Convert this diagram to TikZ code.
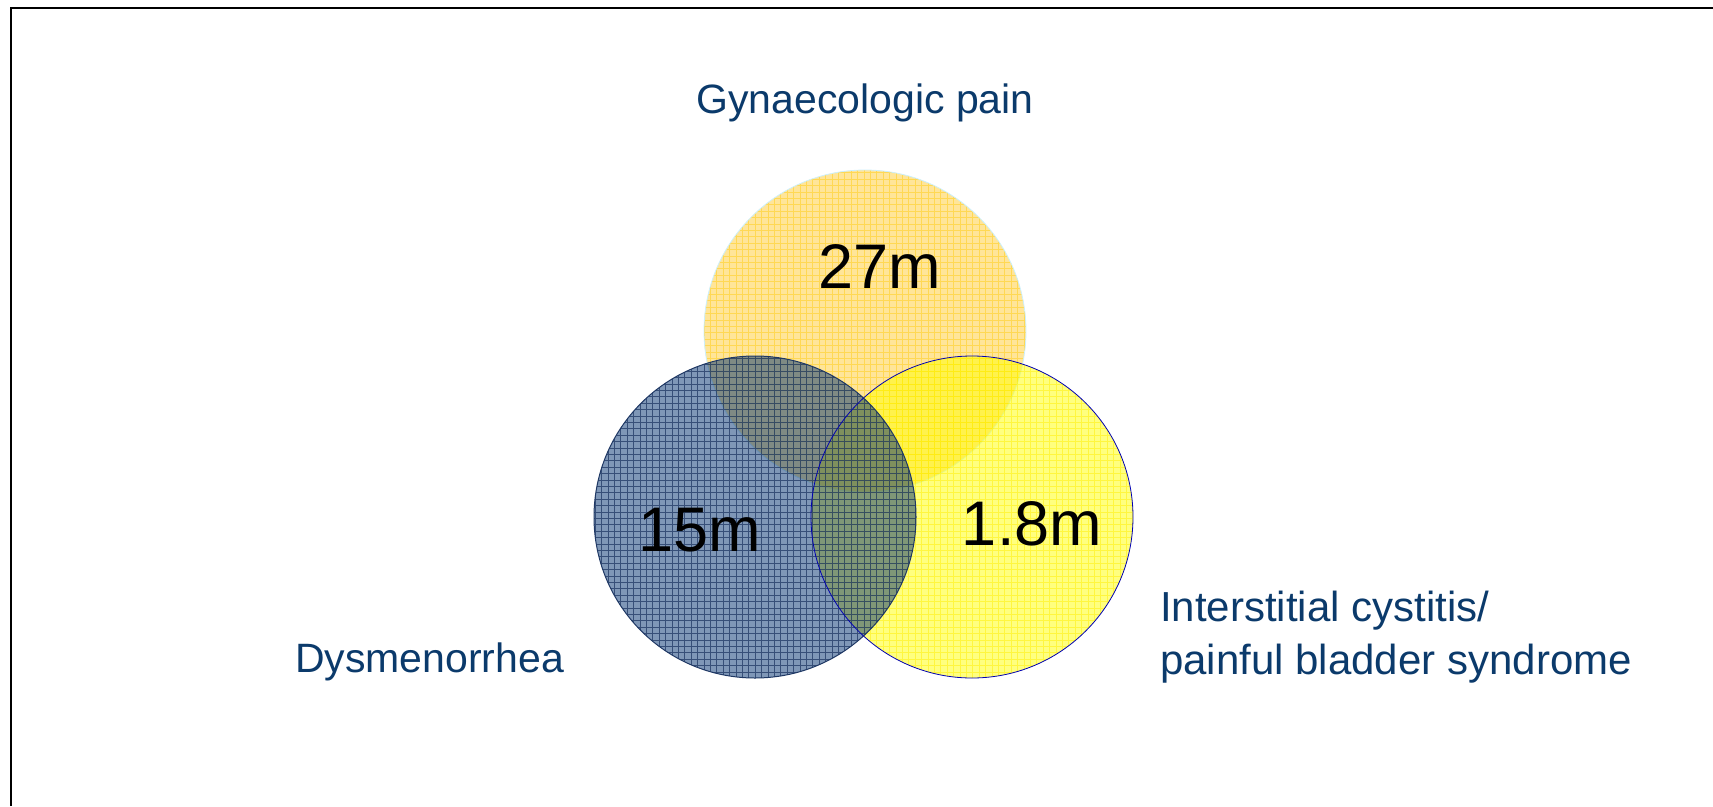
\documentclass[tikz,border=0pt]{standalone}
\usepackage{fontspec}
\setmainfont{Liberation Sans}
\definecolor{testo}{HTML}{0B3A6B}
\definecolor{arancio}{HTML}{FFCC33}
\definecolor{grigliaarancio}{HTML}{FFC800}
\definecolor{giallo}{HTML}{FFFF00}
\definecolor{grigliagiallo}{HTML}{FFEE00}
\definecolor{blu}{HTML}{003070}
\definecolor{grigliablu}{HTML}{1F3864}
\tikzset{
    etichetta/.style={text=testo, font=\fontsize{41}{53}\selectfont, inner sep=0pt},
    numero/.style={text=black, font=\fontsize{63}{70}\selectfont, inner sep=0pt, anchor=base},
    griglia/.style={line width=0.8pt, step=6.4pt},
}
\begin{document}
\begin{tikzpicture}[x=1pt, y=-1pt]
    \useasboundingbox (0,0) rectangle (1713,806);
    %cornice
        \draw[line width=2pt] (11,806)--(11,8)--(1713,8);
        %centri
        \coordinate (gin) at (865,331);
        \coordinate (dis) at (755,517);
        \coordinate (cis) at (972,517);
        %cerchio arancio
        \begin{scope}
            \clip (gin) circle[radius=161pt];
            \fill[arancio, fill opacity=0.5] (gin) circle[radius=161pt];
            \draw[griglia, grigliaarancio, opacity=0.45] (700,165) grid (1030,495);
        \end{scope}
        \draw[cyan!20, line width=0.8pt] (gin) circle[radius=161pt];
        %cerchio giallo
        \begin{scope}
            \clip (cis) circle[radius=161pt];
            \fill[giallo, fill opacity=0.5] (cis) circle[radius=161pt];
            \draw[griglia, grigliagiallo, opacity=0.5] (805,350) grid (1140,685);
        \end{scope}
        %cerchio blu
        \begin{scope}
            \clip (dis) circle[radius=161pt];
            \fill[blu, fill opacity=0.5] (dis) circle[radius=161pt];
            \draw[griglia, grigliablu, opacity=0.75] (590,350) grid (920,685);
        \end{scope}
        \draw[grigliablu, line width=1pt] (dis) circle[radius=161pt];
        \draw[blue!70!black, line width=0.8pt] (cis) circle[radius=161pt];
        %etichette
        \node[etichetta, anchor=base] (ginlab) at (865,113) {Gynaecologic pain};
        \node[etichetta, anchor=base west] (dislab) at (295,672) {Dysmenorrhea};
        \node[etichetta, anchor=base west, align=left] (cislab) at (1160,674) {\fontsize{42}{53}\selectfont Interstitial cystitis/\\\fontsize{42}{53}\selectfont painful bladder syndrome};
        %numeri
        \node[numero] (ginnum) at (880,288) {27m};
        \node[numero] (disnum) at (700,551) {15m};
        \node[numero] (cisnum) at (1032,545) {1.8m};
\end{tikzpicture}
\end{document}
